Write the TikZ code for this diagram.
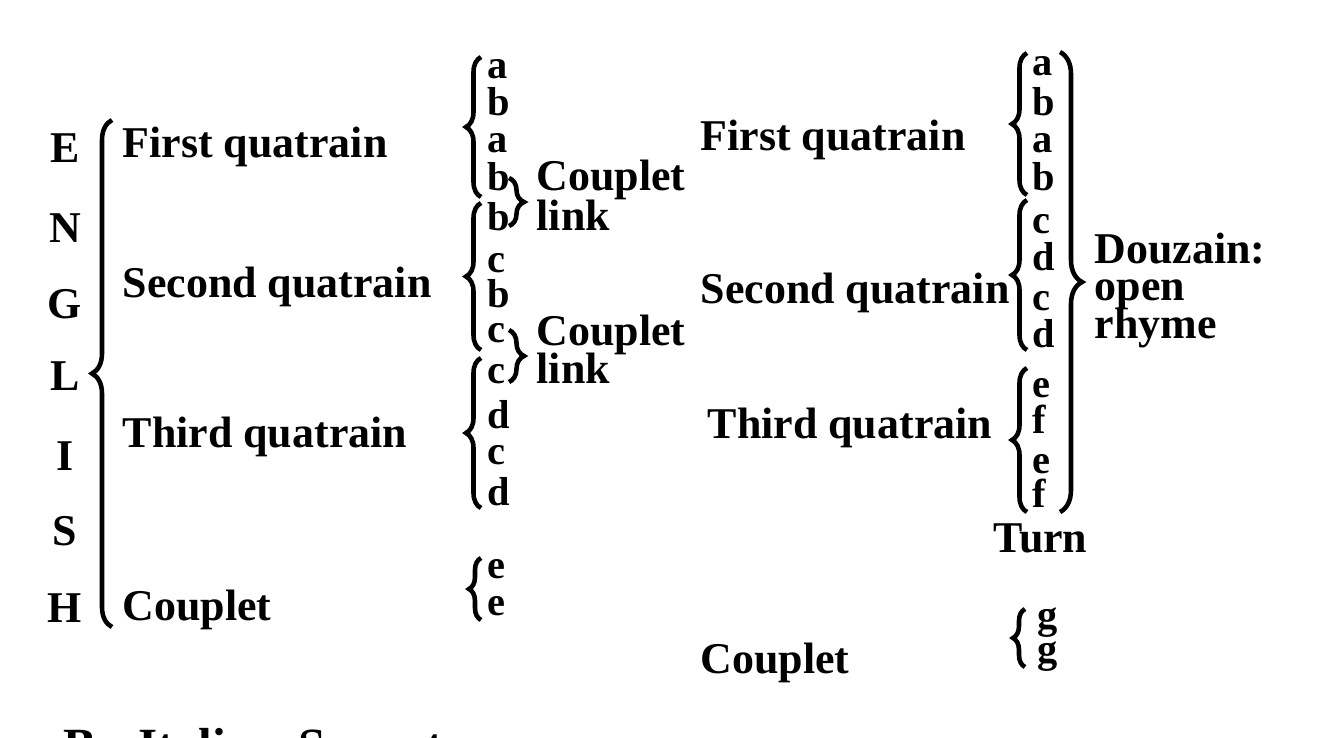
\documentclass[tikz,border=0pt]{standalone}
\usepackage{fontspec}
\setmainfont{Liberation Serif}
\usetikzlibrary{decorations.pathreplacing}

\tikzset{
  lbl/.style={anchor=base west, inner sep=0pt, font=\fontsize{12.5}{15}\selectfont\bfseries},
  capl/.style={anchor=base, inner sep=0pt, font=\fontsize{12.5}{15}\selectfont\bfseries},
  rhy/.style={anchor=base west, inner sep=0pt, font=\fontsize{11.5}{13}\selectfont\bfseries},
  brc/.style={decorate, decoration={brace, amplitude=#1}, line width=1.3pt},
  brc/.default=1.5mm
}

\begin{document}
\begin{tikzpicture}[x=0.1mm, y=-0.1mm]
  \useasboundingbox (0,0) rectangle (1337,737);
  \clip (0,0) rectangle (1337,737);

  % English sonnet
  \foreach \n/\t/\y in {1/E/162,2/N/242,3/G/318,4/L/390,5/I/470,6/S/545,7/H/622}
    \node[capl] (eng\n) at (65,\y) {\t};
  \node[lbl] (fq1) at (122,157) {First quatrain};
  \node[lbl] (sq1) at (122,297) {Second quatrain};
  \node[lbl] (tq1) at (122,447) {Third quatrain};
  \node[lbl] (cp1) at (122,620) {Couplet};
  \draw[brc=2mm] ([shift={(-10,7)}]cp1.base west) -- ([shift={(-10,-37)}]fq1.base west);

  \foreach \n/\t/\y in {1/a/78,2/b/115,3/a/152,4/b/190,5/b/230,6/c/272,7/b/307,
      8/c/342,9/c/383,10/d/428,11/c/464,12/d/505,13/e/578,14/e/615}
    \node[rhy] (r\n) at (487,\y) {\t};
  \draw[brc] ([shift={(-6,7)}]r4.base west) -- ([shift={(-6,-21)}]r1.base west);
  \draw[brc] ([shift={(-6,8)}]r8.base west) -- ([shift={(-6,-27)}]r5.base west);
  \draw[brc] ([shift={(-6,3)}]r12.base west) -- ([shift={(-6,-25)}]r9.base west);
  \draw[brc=1.2mm] ([shift={(-6,5)}]r14.base west) -- ([shift={(-6,-20)}]r13.base west);
  % couplet links
  \draw[brc] ([shift={(22,-12)}]r4.base west) -- ([shift={(22,-4)}]r5.base west);
  \draw[brc] ([shift={(22,-12)}]r8.base west) -- ([shift={(22,-1)}]r9.base west);
  \node[lbl] (cl1) at (536,190) {Couplet};
  \node[lbl] (lk1) at (536,230) {link};
  \node[lbl] (cl2) at (536,345) {Couplet};
  \node[lbl] (lk2) at (536,383) {link};

  % Italian sonnet
  \node[lbl] (fq2) at (700,150) {First quatrain};
  \node[lbl] (sq2) at (700,303) {Second quatrain};
  \node[lbl] (tq2) at (707,438) {Third quatrain};
  \node[lbl] (cp2) at (700,673) {Couplet};
  \foreach \n/\t/\y in {1/a/75,2/b/115,3/a/152,4/b/190,5/c/233,6/d/270,
      7/c/310,8/d/347,9/e/397,10/f/433,11/e/473,12/f/507}
    \node[rhy] (s\n) at (1032,\y) {\t};
  \node[rhy] (g1) at (1037,628) {g};
  \node[rhy] (g2) at (1037,662) {g};
  \draw[brc] ([shift={(-5,5)}]s4.base west) -- ([shift={(-5,-22)}]s1.base west);
  \draw[brc] ([shift={(-5,3)}]s8.base west) -- ([shift={(-5,-33)}]s5.base west);
  \draw[brc] ([shift={(-5,5)}]s12.base west) -- ([shift={(-5,-29)}]s9.base west);
  \draw[brc=1.2mm] ([shift={(-12,5)}]g2.base west) -- ([shift={(-12,-19)}]g1.base west);
  \draw[brc=2.2mm] ([shift={(28,-23)}]s1.base west) -- ([shift={(28,5)}]s12.base west);
  \node[lbl] (dz1) at (1094,263) {Douzain:};
  \node[lbl] (dz2) at (1094,300) {open};
  \node[lbl] (dz3) at (1094,338) {rhyme};
  \node[lbl] (turn) at (993,552) {Turn};

  % next heading, cut by the page edge
  \node[lbl, font=\fontsize{14}{16}\selectfont\bfseries] (head) at (63,762)
    {B.\hspace{3mm}Italian\hspace{2mm}Sonnet};
\end{tikzpicture}
\end{document}
